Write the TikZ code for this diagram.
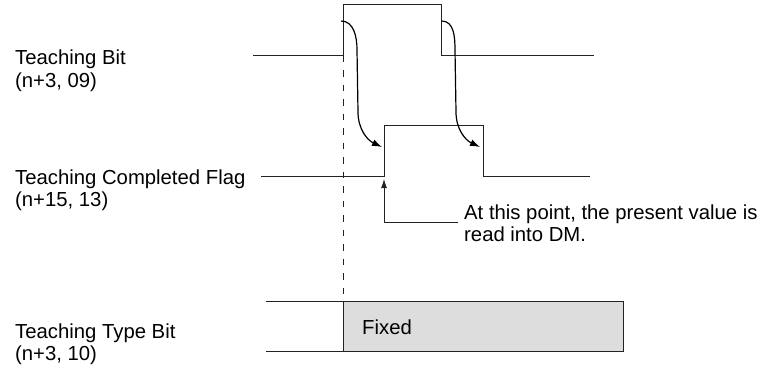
\documentclass[tikz,border=0pt]{standalone}
\usepackage{fontspec}
\setmainfont{Liberation Sans}
\usetikzlibrary{arrows.meta}
\definecolor{wire}{HTML}{222222}
\definecolor{fixedfill}{HTML}{DDDDDD}

\begin{document}
\begin{tikzpicture}[x=1pt, y=1pt,
    signal/.style={draw=wire, line width=0.9pt},
    lbl/.style={anchor=base west, align=left, inner sep=0pt, font=\fontsize{20.3}{22.6}\selectfont},
    cause/.style={-{Latex[length=10pt, width=7pt]}, line width=1.2pt},
    pointer/.style={-{Latex[length=9pt, width=6pt]}, draw=wire, line width=0.9pt},
    marker/.style={draw=wire, line width=0.9pt, dash pattern=on 6.5pt off 8pt},
]
\useasboundingbox (0,0) rectangle (778,-369);

% Labels (anchored on the baseline of the last line)
\node[lbl] (bitlbl) at (15,-87) {Teaching Bit\\(n+3, 09)};
\node[lbl] (flaglbl) at (15,-206.6) {Teaching Completed Flag\\(n+15, 13)};
\node[lbl] (typelbl) at (15,-360.6) {Teaching Type Bit\\(n+3, 10)};
\node[lbl] (note) at (464,-241.8) {At this point, the present value is\\read into DM.};

% Waveforms
\draw[signal] (253,-55.7) -- (343,-55.7) -- (343,-4.3) -- (441.7,-4.3) -- (441.7,-55.7) -- (594,-55.7);
\draw[signal] (261,-176.7) -- (384,-176.7) -- (384,-125) -- (483,-125) -- (483,-176.7) -- (590,-176.7);
\filldraw[signal, fill=fixedfill] (343,-301.7) rectangle (623,-351.7);
\draw[signal] (266,-301.7) -- (343,-301.7);
\draw[signal] (266,-351.7) -- (343,-351.7);
\node[lbl] (fixed) at (362,-334) {Fixed};

% Points
\coordinate (bitrise) at (341,-21);
\coordinate (bitfall) at (441.7,-21);
\coordinate (flagrise) at (382,-147);
\coordinate (flagfall) at (480,-147);
\coordinate (readpt) at (384,-179);
\coordinate (noteend) at (458,-222.7);
\coordinate (marktop) at (343,-55.7);
\coordinate (markbot) at (343,-301.7);

% Arrows
\draw[cause] (bitrise) to[out=0, in=90] (357,-50) -- (358,-112) to[out=-90, in=155] (flagrise);
\draw[cause] (bitfall) to[out=0, in=90] (455,-50) -- (456,-112) to[out=-90, in=155] (flagfall);
\draw[pointer] (noteend) -| (readpt);
\draw[marker] (marktop) -- (markbot);

\end{tikzpicture}
\end{document}
